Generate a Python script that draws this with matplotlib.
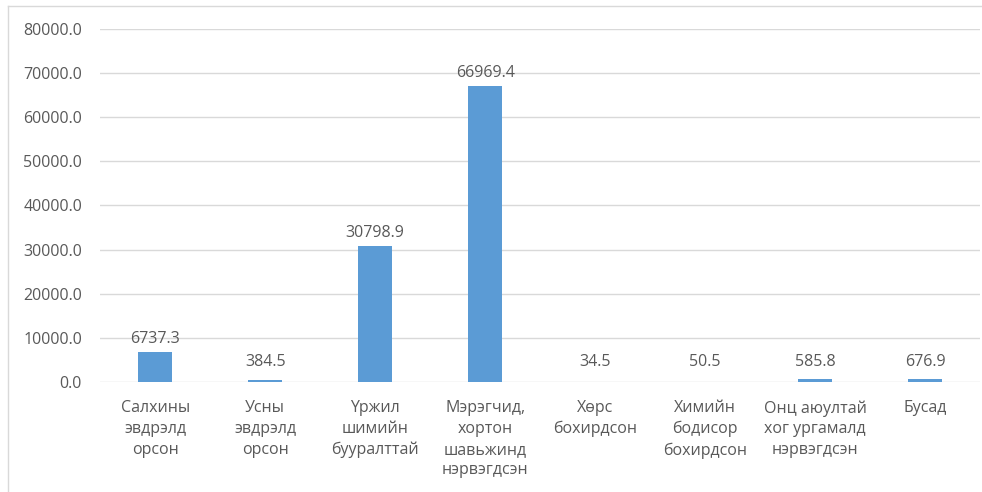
import matplotlib.pyplot as plt
from matplotlib.lines import Line2D

# Data
categories = ['Салхины\nэвдрэлд\nорсон', 'Усны\nэвдрэлд\nорсон', 'Үржил\nшимийн\nбууралттай',
              'Мэрэгчид,\nхортон\nшавьжинд\nнэрвэгдсэн', 'Хөрс\nбохирдсон',
              'Химийн\nбодисор\nбохирдсон', 'Онц аюултай\nхог ургамалд\nнэрвэгдсэн', 'Бусад']
values = [6737.3, 384.5, 30798.9, 66969.4, 34.5, 50.5, 585.8, 676.9]
yticks = [0, 10000, 20000, 30000, 40000, 50000, 60000, 70000, 80000]

text_color = '#595959'
plt.rcParams['font.family'] = ['Open Sans', 'DejaVu Sans']

fig = plt.figure(figsize=(9.82, 4.92), dpi=100)
ax = fig.add_axes([0.102, 0.2236, 0.896, 0.7175])

x = range(len(categories))
ax.bar(x, values, width=0.31, color='#5B9BD5', zorder=3)

for xi, v in zip(x, values):
    ax.annotate(f'{v:.1f}', (xi, max(v, 1500)), xytext=(0, 4), textcoords='offset points',
                ha='center', va='bottom', fontsize=11.5, color=text_color)

ax.set_xlim(-0.5, len(categories) - 0.5)
ax.set_ylim(0, 80000)
ax.set_yticks(yticks)
ax.set_yticklabels([f'{t:.1f}' for t in yticks], fontsize=11.5, color=text_color)
ax.set_xticks(list(x))
ax.set_xticklabels(categories, fontsize=11.5, color=text_color, linespacing=1.4, va='top')
ax.tick_params(axis='both', length=0)
ax.tick_params(axis='y', pad=13)
ax.tick_params(axis='x', pad=13)
ax.grid(axis='y', color='#D9D9D9', linewidth=1, zorder=0)
for s in ax.spines.values():
    s.set_visible(False)

# outer chart border (left and top visible)
fig.add_artist(Line2D([8 / 982, 8 / 982], [0, 1 - 6 / 492], transform=fig.transFigure, color='#D9D9D9', lw=1))
fig.add_artist(Line2D([8 / 982, 1], [1 - 6 / 492, 1 - 6 / 492], transform=fig.transFigure, color='#D9D9D9', lw=1))

fig.savefig('out.png', dpi=100)
